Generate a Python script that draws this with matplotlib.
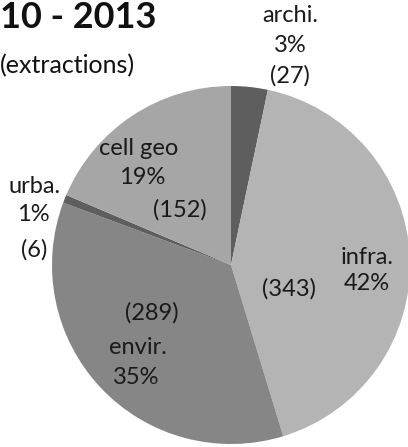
import matplotlib
matplotlib.use("Agg")
import matplotlib.pyplot as plt

categories = ["archi.", "infra.", "envir.", "urba.", "cell geo"]
counts = [27, 343, 289, 6, 152]
percents = ["3%", "42%", "35%", "1%", "19%"]
colors = ["#5e5e5e", "#b4b4b4", "#868686", "#5e5e5e", "#a6a6a6"]

W, H = 408, 447
fig = plt.figure(figsize=(W / 100, H / 100), dpi=100)
plt.rcParams['font.family'] = ['Lato', 'DejaVu Sans']

cx, cy, r = 231, 265, 179
ax = fig.add_axes([(cx - r) / W, (H - cy - r) / H, 2 * r / W, 2 * r / H])
ax.pie(counts, colors=colors, startangle=90, counterclock=False,
       wedgeprops=dict(linewidth=0))
ax.set_xlim(-1, 1)
ax.set_ylim(-1, 1)
ax.set_aspect('auto')
ax.axis('off')

def t(x, y, s, **kw):
    fig.text(x / W, 1 - y / H, s, ha='center', va='center', fontsize=17,
             color='#1a1a1a', **kw)

# title (cropped in the reference)
fig.text(0, 1 - 18 / H, "10 - 2013", ha='left', va='center', fontsize=26,
         fontweight='bold', color='#111111')
fig.text(0, 1 - 66 / H, "(extractions)", ha='left', va='center', fontsize=18,
         color='#111111')

# archi
t(290, 16, categories[0]); t(290, 45, percents[0]); t(290, 76, f"({counts[0]})")
# infra
t(367, 258, categories[1]); t(367, 284, percents[1]); t(289, 289, f"({counts[1]})")
# envir
t(152, 313, f"({counts[2]})"); t(138, 348, categories[2]); t(136, 377, percents[2])
# urba
t(35, 186, categories[3]); t(33, 215, percents[3]); t(34, 250, f"({counts[3]})")
# cell geo
t(139, 149, categories[4]); t(142, 178, percents[4]); t(180, 210, f"({counts[4]})")

fig.savefig("out.png", dpi=100)
